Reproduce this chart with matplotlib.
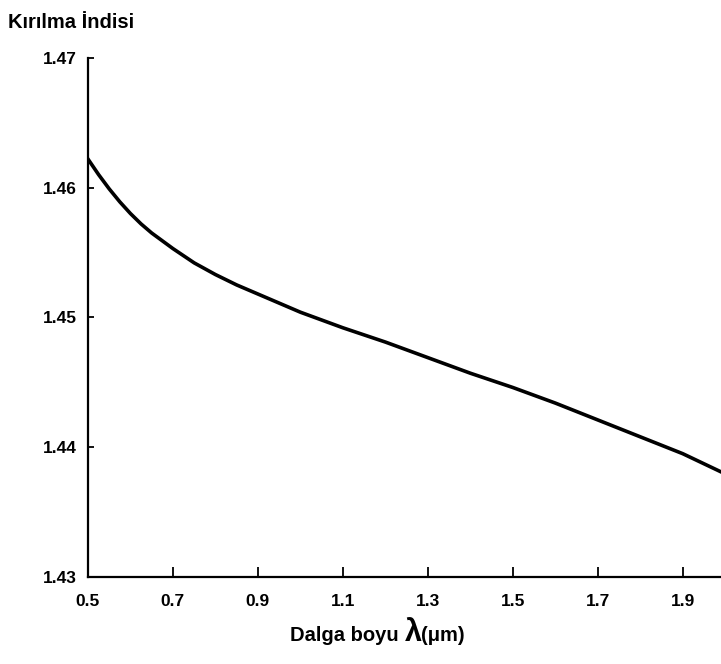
import numpy as np
import matplotlib.pyplot as plt

plt.rcParams['font.family'] = ['Liberation Sans', 'DejaVu Sans']
plt.rcParams['font.weight'] = 'bold'

# Kırılma indisi - dalga boyu
dalga_boyu = [0.500, 0.525, 0.550, 0.575, 0.600, 0.625, 0.650, 0.675, 0.700,
              0.750, 0.800, 0.850, 0.900, 0.950, 1.000, 1.100, 1.200, 1.300,
              1.400, 1.500, 1.600, 1.700, 1.800, 1.900, 1.990]
kirilma = [1.4622, 1.4610, 1.4599, 1.4589, 1.4580, 1.4572, 1.4565, 1.4559,
           1.4553, 1.4542, 1.4533, 1.4525, 1.4518, 1.4511, 1.4504, 1.4492,
           1.4481, 1.4469, 1.4457, 1.4446, 1.4434, 1.4421, 1.4408, 1.4395,
           1.4381]

x_ticks = [0.5, 0.7, 0.9, 1.1, 1.3, 1.5, 1.7, 1.9]
y_ticks = [1.43, 1.44, 1.45, 1.46, 1.47]

fig = plt.figure(figsize=(7.21, 6.64), dpi=100)
ax = fig.add_axes([0.122, 0.131, 0.878, 0.782])

ax.plot(dalga_boyu, kirilma, color='black', linewidth=2.6, solid_joinstyle='round')

ax.set_xlim(0.5, 1.99)
ax.set_ylim(1.43, 1.47)
ax.set_xticks(x_ticks)
ax.set_xticklabels([f"{v:.1f}" for v in x_ticks])
ax.set_yticks(y_ticks)
ax.set_yticklabels([f"{v:.2f}" for v in y_ticks])

for s in ['top', 'right']:
    ax.spines[s].set_visible(False)
for s in ['left', 'bottom']:
    ax.spines[s].set_linewidth(1.6)

ax.tick_params(axis='x', direction='in', length=7, width=1.3, pad=12, labelsize=12.5)
ax.tick_params(axis='y', direction='in', length=4, width=1.3, pad=8, labelsize=12.5)

# x ekseni başlığı (λ daha büyük)
ax.text(0.5, -0.124, "Dalga boyu ", transform=ax.transAxes, ha='right', va='baseline',
        fontsize=14.5, fontweight='bold')
ax.text(0.5, -0.124, "λ", transform=ax.transAxes, ha='left', va='baseline',
        fontsize=22, fontweight='bold')
ax.text(0.526, -0.124, "(μm)", transform=ax.transAxes, ha='left', va='baseline',
        fontsize=14.5, fontweight='bold')
fig.text(0.011, 0.958, "Kırılma İndisi", fontsize=14.5, fontweight='bold')

fig.savefig("out.png", dpi=100)
